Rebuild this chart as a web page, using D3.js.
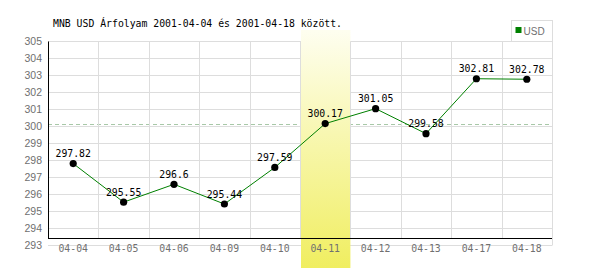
<!DOCTYPE html>
<html lang="hu">
<head>
<meta charset="UTF-8">
<title>MNB USD Árfolyam</title>
<script src="https://d3js.org/d3.v7.min.js"></script>
<style>
  body { margin: 0; background: #fff; }
</style>
</head>
<body>
<svg id="chart" width="600" height="270"></svg>
<script>
// adatok
var dates = ["04-04", "04-05", "04-06", "04-09", "04-10", "04-11", "04-12", "04-13", "04-17", "04-18"];
var rates = [297.82, 295.55, 296.6, 295.44, 297.59, 300.17, 301.05, 299.58, 302.81, 302.78];
var yTicks = [293, 294, 295, 296, 297, 298, 299, 300, 301, 302, 303, 304, 305];
var highlightDate = "04-11";
var seriesName = "USD";
var title = "MNB USD Árfolyam 2001-04-04 és 2001-04-18 között.";

var svg = d3.select("#chart");
var plotLeft = 48, plotRight = 552, plotTop = 41.5, plotBottom = 245.5, axisY = 238.5;
var mono = "'DejaVu Sans Mono', monospace";
var sans = "'Liberation Sans', Arial, sans-serif";

var x = d3.scaleBand().domain(dates).range([plotLeft, plotRight]).padding(0);
var y = d3.scaleLinear().domain([293, 305]).range([plotBottom, plotTop]);

// vízszintes rácsvonalak
svg.selectAll(".hgrid")
    .data(yTicks)
    .enter().append("line")
    .attr("x1", plotLeft).attr("x2", plotRight)
    .attr("y1", d => y(d)).attr("y2", d => y(d))
    .attr("stroke", "#dddddd");

// kiemelt nap értéke szaggatott vonallal
var hlValue = rates[dates.indexOf(highlightDate)];
svg.append("line")
    .attr("x1", plotLeft).attr("x2", plotRight)
    .attr("y1", Math.round(y(hlValue)) + 0.5).attr("y2", Math.round(y(hlValue)) + 0.5)
    .attr("stroke", "#a8c8a8")
    .attr("stroke-dasharray", "4,3");

// kiemelt nap háttere (színátmenet)
var grad = svg.append("defs").append("linearGradient")
    .attr("id", "hl").attr("x1", 0).attr("y1", 0).attr("x2", 0).attr("y2", 1);
grad.append("stop").attr("offset", "0%").attr("stop-color", "#fefef0");
grad.append("stop").attr("offset", "100%").attr("stop-color", "#f0ee60");

svg.append("rect")
    .attr("x", x(highlightDate) + 1)
    .attr("y", 30)
    .attr("width", x.bandwidth() - 1)
    .attr("height", 238)
    .attr("fill", "url(#hl)");

// függőleges rácsvonalak
svg.selectAll(".vgrid")
    .data(dates.slice(1))
    .enter().append("line")
    .attr("x1", d => Math.round(x(d)) + 0.5).attr("x2", d => Math.round(x(d)) + 0.5)
    .attr("y1", plotTop).attr("y2", axisY)
    .attr("stroke", "#dddddd");
svg.append("line")
    .attr("x1", plotRight + 0.5).attr("x2", plotRight + 0.5)
    .attr("y1", plotTop).attr("y2", plotBottom)
    .attr("stroke", "#dddddd");

// tengelyek
svg.append("line")
    .attr("x1", plotLeft + 0.5).attr("x2", plotLeft + 0.5)
    .attr("y1", plotTop).attr("y2", axisY)
    .attr("stroke", "#000");
svg.append("line")
    .attr("x1", plotLeft).attr("x2", plotRight)
    .attr("y1", axisY).attr("y2", axisY)
    .attr("stroke", "#000");

// y feliratok
svg.selectAll(".ylab")
    .data(yTicks)
    .enter().append("text")
    .attr("x", 42)
    .attr("y", d => y(d) + 3.5)
    .attr("text-anchor", "end")
    .attr("font-family", sans)
    .attr("font-size", "10.5px")
    .attr("fill", "#707070")
    .text(d => d);

// x feliratok
svg.selectAll(".xlab")
    .data(dates)
    .enter().append("text")
    .attr("x", d => x(d) + x.bandwidth() / 2)
    .attr("y", 252)
    .attr("text-anchor", "middle")
    .attr("font-family", mono)
    .attr("font-size", "9.8px")
    .attr("fill", "#707070")
    .text(d => d);

// adatsor
var pts = dates.map((d, i) => [x(d) + x.bandwidth() / 2, y(rates[i])]);
svg.append("path")
    .attr("d", d3.line()(pts))
    .attr("fill", "none")
    .attr("stroke", "#008000")
    .attr("stroke-width", 1);

svg.selectAll(".pt")
    .data(pts)
    .enter().append("circle")
    .attr("cx", d => d[0]).attr("cy", d => d[1])
    .attr("r", 3.6)
    .attr("fill", "#000");

svg.selectAll(".vlab")
    .data(rates)
    .enter().append("text")
    .attr("x", (d, i) => pts[i][0])
    .attr("y", (d, i) => pts[i][1] - 6.5)
    .attr("text-anchor", "middle")
    .attr("font-family", mono)
    .attr("font-size", "9.8px")
    .attr("fill", "#000")
    .text(d => d);

// cím
svg.append("text")
    .attr("x", 53)
    .attr("y", 27)
    .attr("font-family", mono)
    .attr("font-size", "9.8px")
    .attr("fill", "#000")
    .text(title);

// jelmagyarázat
var lg = svg.append("g");
lg.append("rect")
    .attr("x", 511.5).attr("y", 20.5)
    .attr("width", 41).attr("height", 21)
    .attr("fill", "#fff")
    .attr("stroke", "#dddddd");
lg.append("rect")
    .attr("x", 515.5).attr("y", 27)
    .attr("width", 6).attr("height", 6)
    .attr("fill", "#008000");
lg.append("text")
    .attr("x", 523.5).attr("y", 34.5)
    .attr("font-family", sans)
    .attr("font-size", "10px")
    .attr("fill", "#707070")
    .text(seriesName);
</script>
</body>
</html>
